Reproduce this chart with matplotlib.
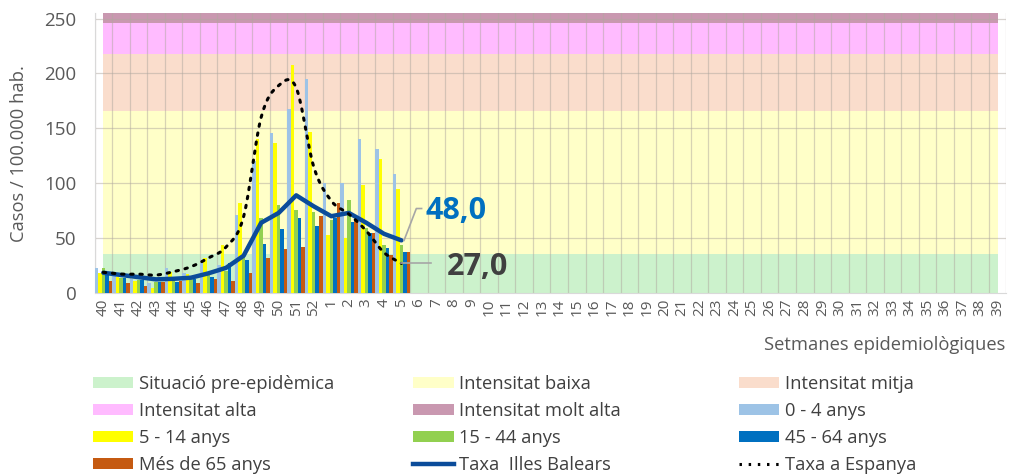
import numpy as np
import matplotlib
matplotlib.use("Agg")
import matplotlib.pyplot as plt
from matplotlib.patches import Patch
from matplotlib.lines import Line2D

plt.rcParams['font.family'] = ['Open Sans', 'DejaVu Sans']

weeks = [str(w) for w in list(range(40, 53)) + list(range(1, 40))]

# threshold bands (upper limits)
band_names = ["Situació pre-epidèmica", "Intensitat baixa", "Intensitat mitja",
              "Intensitat alta", "Intensitat molt alta"]
band_tops = [36, 166, 218, 246, 255]
band_colors = ["#CCF2CC", "#FFFFC8", "#FADDCC", "#FFBBFF", "#C998B0"]

# age group rates (weeks 40..5)
age_names = ["0 - 4 anys", "5 - 14 anys", "15 - 44 anys", "45 - 64 anys", "Més de 65 anys"]
age_colors = ["#9DC3E6", "#FFFF00", "#92D050", "#0070C0", "#C55A11"]
age_0_4 = [23, 17, 13, 9, 23, 18, 27, 26, 71, 120, 146, 168, 195, 100, 100, 140, 131, 108]
age_5_14 = [18, 15, 11, 4.5, 19, 17, 32, 44, 82, 140, 137, 208, 147, 53, 50, 98, 122, 95]
age_15_44 = [23, 14, 12, 10, 15, 15, 18, 20, 34, 68, 80, 76, 74, 67, 85, 59, 44, 44]
age_45_64 = [18, 14, 12, 10, 10.5, 13, 15, 27, 30, 45, 58, 68, 61, 68, 65, 55, 41, 37]
age_65 = [11, 9.4, 6.7, 10, 10.6, 8.8, 12.5, 11, 18.5, 32, 40, 41.7, 70.5, 82, 66.6, 54.5, 34.7, 37.7]
ages = [age_0_4, age_5_14, age_15_44, age_45_64, age_65]

taxa_balears = [18.5, 16.5, 14.5, 12.5, 13, 14, 18, 23, 34, 64, 73, 89, 79, 70, 73, 64, 54, 48.0]
taxa_espanya = [18.9, 17.3, 17.3, 16.4, 19.5, 24, 32, 42, 69.6, 160, 189, 187, 115, 84, 72, 56.6, 37, 27.0]


def catmull_rom(x, y, n=16):
    x = np.asarray(x, float)
    y = np.asarray(y, float)
    px = np.concatenate([[2 * x[0] - x[1]], x, [2 * x[-1] - x[-2]]])
    py = np.concatenate([[2 * y[0] - y[1]], y, [2 * y[-1] - y[-2]]])
    ox, oy = [], []
    for i in range(1, len(px) - 2):
        t = np.linspace(0, 1, n, endpoint=False)
        for arr, out in ((px, ox), (py, oy)):
            p0, p1, p2, p3 = arr[i - 1], arr[i], arr[i + 1], arr[i + 2]
            out.extend(0.5 * ((2 * p1) + (-p0 + p2) * t +
                              (2 * p0 - 5 * p1 + 4 * p2 - p3) * t ** 2 +
                              (-p0 + 3 * p1 - 3 * p2 + p3) * t ** 3))
    ox.append(x[-1]); oy.append(y[-1])
    return np.array(ox), np.array(oy)


fig = plt.figure(figsize=(10.11, 4.75), dpi=100)
ax = fig.add_axes([0.0935, 0.383, 0.902, 0.5895])

n = len(weeks)
xall = np.arange(n)
lower = 0
band_handles = []
for name, top, col in zip(band_names, band_tops, band_colors):
    ax.fill_between([0, n - 1], [lower, lower], [top, top], color=col, lw=0, zorder=1)
    band_handles.append(Patch(facecolor=col, label=name))
    lower = top

# gridlines
for xv in np.arange(-0.5, n, 1.0):
    ax.axvline(xv, color="#B0A8A0", alpha=0.5, lw=0.9, zorder=2)
for yv in [50, 100, 150, 200, 250]:
    ax.axhline(yv, color="#B0A8A0", alpha=0.5, lw=0.9, zorder=2)

m = len(age_0_4)
xb = np.arange(m)
w = 0.2
age_handles = []
for k, (vals, col, name) in enumerate(zip(ages, age_colors, age_names)):
    ax.bar(xb + (k - 2) * w, vals, width=w, color=col, lw=0, zorder=3)
    age_handles.append(Patch(facecolor=col, label=name))

ax.plot(xb, taxa_balears, color="#0B4C9A", lw=3.2, zorder=5, solid_capstyle='round')
sx, sy = catmull_rom(xb, taxa_espanya)
ax.plot(sx, sy, color="black", lw=2.2, ls=(0, (0.8, 2.2)), dash_capstyle='round', zorder=6)

# end labels
xe = xb[-1]
yb = taxa_balears[-1]
ax.plot([xe + 0.15, xe + 0.85, xe + 1.15], [yb, yb + 29, yb + 29],
        color="#A6A6A6", lw=1.2, zorder=6)
ax.text(xe + 1.4, yb + 27, f"{yb:.1f}".replace('.', ','),
        color="#0070C0", fontsize=22, fontweight='bold', va='center', ha='left', zorder=7)
ye = taxa_espanya[-1]
ax.plot([xe, xe + 1.7], [ye, ye], color="#A6A6A6", lw=1.2, zorder=6)
ax.text(xe + 2.6, ye - 3.5, f"{ye:.1f}".replace('.', ','),
        color="#404040", fontsize=22, fontweight='bold', va='center', ha='left', zorder=7)

ax.set_xlim(-0.5, n - 0.5)
ax.set_ylim(0, 255)
ax.set_yticks([0, 50, 100, 150, 200, 250])
ax.set_xticks(xall)
ax.set_xticklabels(weeks, rotation=90, fontsize=11, color="#595959")
ax.tick_params(axis='y', labelsize=13.5, colors="#595959", length=0, pad=13)
ax.tick_params(axis='x', length=0, pad=4, colors="#595959")
for s in ['top', 'right']:
    ax.spines[s].set_visible(False)
for s in ['left', 'bottom']:
    ax.spines[s].set_color("#D9D9D9")
ax.set_ylabel("Casos / 100.000 hab.", fontsize=13.2, color="#595959", labelpad=12)
fig.text(0.994, 0.273, "Setmanes epidemiològiques", fontsize=13.2, color="#595959",
         ha='right', va='center')

line_handles = [Line2D([], [], color="#0B4C9A", lw=3.2, label="Taxa  Illes Balears"),
                Line2D([], [], color="black", lw=2.2, ls=(0, (0.8, 2.2)), label="Taxa a Espanya")]
handles = band_handles + age_handles + line_handles
cols = [handles[0::3], handles[1::3], handles[2::3]]
xpos = [0.092, 0.409, 0.731]
for hs, xp in zip(cols, xpos):
    fig.legend(handles=hs, loc='upper left', bbox_to_anchor=(xp, 0.2105), ncol=1, frameon=False,
               fontsize=13.2, handlelength=2.2, handleheight=0.6, handletextpad=0.3,
               labelspacing=0.49, borderaxespad=0, borderpad=0, labelcolor="#404040")

fig.savefig("out.png", dpi=100)
